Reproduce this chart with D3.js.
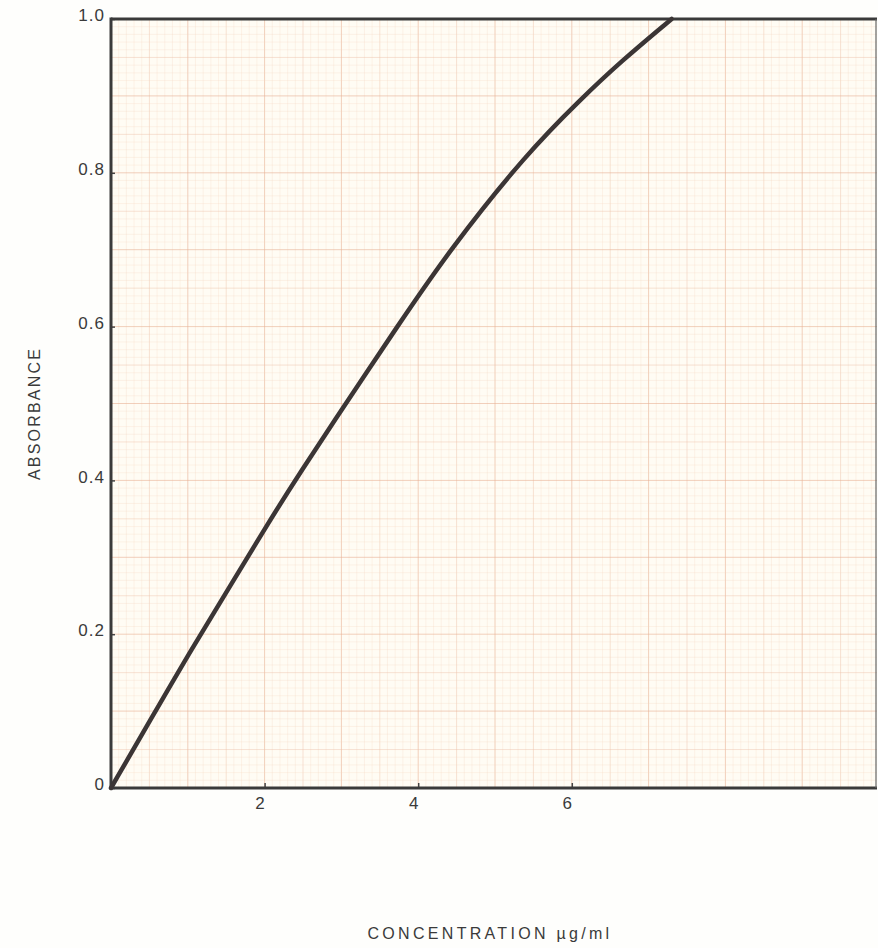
<!DOCTYPE html>
<html>
<head>
<meta charset="utf-8">
<script src="https://cdn.jsdelivr.net/npm/d3@7"></script>
<style>
  html, body { margin: 0; padding: 0; background: #fefefc; }
  svg { display: block; }
  text { font-family: "Liberation Sans", Arial, sans-serif; fill: #3a3a3a; }
</style>
</head>
<body>
<svg id="chart" width="878" height="948"></svg>
<script>
// Data
const concentration = [0, 0.51, 1.05, 1.61, 2.0, 2.46, 3.11, 3.70, 4.41, 5.42, 6.11, 6.63, 7.3];
const absorbance    = [0, 0.088, 0.181, 0.272, 0.337, 0.410, 0.508, 0.596, 0.700, 0.826, 0.895, 0.944, 1.0];
const xTickValues = [2, 4, 6];
const xTickLabels = ["2", "4", "6"];
const yTickValues = [0, 0.2, 0.4, 0.6, 0.8, 1.0];
const yTickLabels = ["0", "0.2", "0.4", "0.6", "0.8", "1.0"];
const xTitle = "CONCENTRATION \u00b5g/ml";
const yTitle = "ABSORBANCE";

(function () {
const svg = d3.select("#chart");
const mLeft = 111, mRight = 877, mTop = 19, mBottom = 788;
const xMax = (mRight - mLeft) / 76.8;
const x = d3.scaleLinear().domain([0, xMax]).range([mLeft, mRight]);
const y = d3.scaleLinear().domain([0, 1]).range([mBottom, mTop]);

// plot background
svg.append("rect").attr("x", mLeft).attr("y", mTop)
  .attr("width", mRight - mLeft).attr("height", mBottom - mTop)
  .attr("fill", "#fffcf4");

// graph paper grid
const grid = svg.append("g");
const xMinor = d3.range(0, xMax, 0.1);
const yMinor = d3.range(0, 1.0001, 0.01);
function lineStyle(v, step) {
  const n = Math.round(v / step);
  if (n % 10 === 0) return { c: "#e8b094", w: 1, o: 0.6 };
  if (n % 5 === 0) return { c: "#eec2a8", w: 1, o: 0.45 };
  return { c: "#f2d2bd", w: 0.8, o: 0.32 };
}
xMinor.forEach(v => {
  const s = lineStyle(v, 0.1);
  grid.append("line").attr("x1", x(v)).attr("x2", x(v)).attr("y1", mTop).attr("y2", mBottom)
    .attr("stroke", s.c).attr("stroke-width", s.w).attr("stroke-opacity", s.o);
});
yMinor.forEach(v => {
  const s = lineStyle(v, 0.01);
  grid.append("line").attr("y1", y(v)).attr("y2", y(v)).attr("x1", mLeft).attr("x2", mRight)
    .attr("stroke", s.c).attr("stroke-width", s.w).attr("stroke-opacity", s.o);
});

// axes
const xAxis = d3.axisBottom(x).tickValues(xTickValues).tickFormat((d, i) => xTickLabels[i])
  .tickSizeInner(-5).tickSizeOuter(0).tickPadding(9);
const gx = svg.append("g").attr("transform", `translate(0,${mBottom})`).call(xAxis);
gx.select(".domain").remove();
gx.selectAll(".tick line").attr("stroke", "#444").attr("stroke-width", 1.5);
gx.selectAll("text").style("font-size", "17px").attr("fill", "#3a3a3a").attr("dx", "-5");

const yAxis = d3.axisLeft(y).tickValues(yTickValues).tickFormat((d, i) => yTickLabels[i])
  .tickSizeInner(-4).tickSizeOuter(0).tickPadding(6);
const gy = svg.append("g").attr("transform", `translate(${mLeft},0)`).call(yAxis);
gy.select(".domain").remove();
gy.selectAll(".tick line").attr("stroke", "#444").attr("stroke-width", 1.5);
gy.selectAll("text").style("font-size", "17px").attr("fill", "#3a3a3a").attr("letter-spacing", "1px").attr("dy", "0.1em");

// frame
svg.append("line").attr("x1", mLeft).attr("x2", mRight).attr("y1", mTop).attr("y2", mTop)
  .attr("stroke", "#3a3a3a").attr("stroke-width", 3);
svg.append("line").attr("x1", mLeft).attr("x2", mRight).attr("y1", mBottom).attr("y2", mBottom)
  .attr("stroke", "#3a3a3a").attr("stroke-width", 3);
svg.append("line").attr("x1", mLeft).attr("x2", mLeft).attr("y1", mTop - 1.5).attr("y2", mBottom + 1.5)
  .attr("stroke", "#3a3a3a").attr("stroke-width", 3);
svg.append("line").attr("x1", mRight - 1).attr("x2", mRight - 1).attr("y1", mTop).attr("y2", mBottom)
  .attr("stroke", "#666").attr("stroke-width", 1.2);

// curve
const pts = concentration.map((c, i) => [c, absorbance[i]]);
svg.append("path").datum(pts)
  .attr("fill", "none").attr("stroke", "#3b3535").attr("stroke-width", 4.5)
  .attr("stroke-linecap", "round")
  .attr("d", d3.line().x(d => x(d[0])).y(d => y(d[1])).curve(d3.curveBasis));

// titles
svg.append("text").attr("transform", `translate(36,${(mTop + mBottom) / 2 + 10}) rotate(-90)`)
  .attr("text-anchor", "middle").attr("dominant-baseline", "middle")
  .style("font-size", "16px").attr("letter-spacing", "2.2px").text(yTitle);
svg.append("text").attr("x", 490).attr("y", 935)
  .attr("text-anchor", "middle").attr("dominant-baseline", "middle")
  .style("font-size", "16px").attr("letter-spacing", "3.3px").text(xTitle);
})();
</script>
</body>
</html>
